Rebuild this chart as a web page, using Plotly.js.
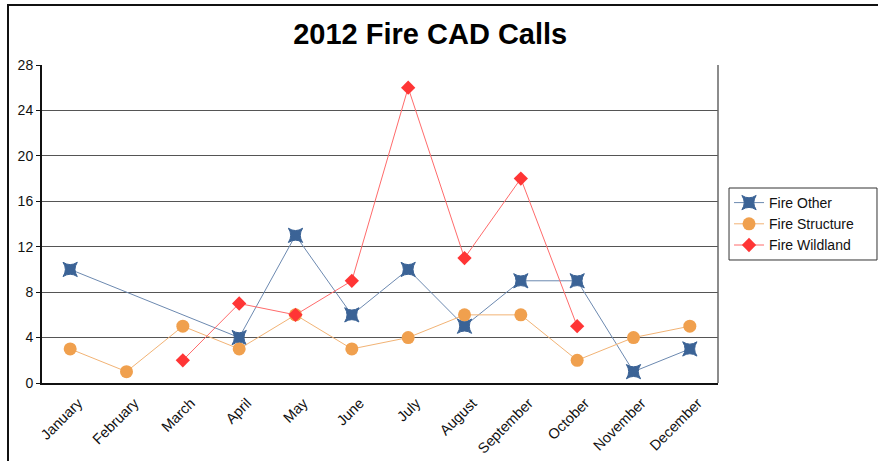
<!DOCTYPE html>
<html>
<head>
<meta charset="utf-8">
<script src="https://cdn.plot.ly/plotly-3.0.1.min.js"></script>
<style>
html,body{margin:0;padding:0;background:#fff;}
#frame{position:absolute;left:7px;top:4px;width:880px;height:470px;border-left:2px solid #111;border-top:2px solid #111;}
#chart{position:absolute;left:0;top:0;width:878px;height:461px;}
</style>
</head>
<body>
<div id="frame"></div>
<div id="chart"></div>
<script>
const months = ["January","February","March","April","May","June","July","August","September","October","November","December"];
const fireOther = [10, null, null, 4, 13, 6, 10, 5, 9, 9, 1, 3];
const fireStructure = [3, 1, 5, 3, 6, 3, 4, 6, 6, 2, 4, 5];
const fireWildland = [null, null, 2, 7, 6, 9, 26, 11, 18, 5, null, null];
const yTicks = [0, 4, 8, 12, 16, 20, 24, 28];

const traces = [
  {x: months, y: fireOther, name: "Fire Other", type: "scatter", mode: "lines+markers", connectgaps: true,
   line: {color: "#6c89b0", width: 1}, marker: {symbol: "star-square", size: 13, color: "#3b6396", line: {color: "#3b6396", width: 1}}},
  {x: months, y: fireStructure, name: "Fire Structure", type: "scatter", mode: "lines+markers", connectgaps: true,
   line: {color: "#f2b375", width: 1}, marker: {symbol: "circle", size: 13, color: "#f0a04e"}},
  {x: months, y: fireWildland, name: "Fire Wildland", type: "scatter", mode: "lines+markers", connectgaps: true,
   line: {color: "#ff6b6b", width: 1}, marker: {symbol: "diamond", size: 11, color: "#ff3535"}}
];

const layout = {
  width: 878, height: 461,
  paper_bgcolor: "rgba(0,0,0,0)", plot_bgcolor: "#fff",
  margin: {l: 42, r: 160, t: 65, b: 78},
  font: {family: "Liberation Sans, Arial, sans-serif", size: 14, color: "#111"},
  title: {text: "<b>2012 Fire CAD Calls</b>", font: {size: 29, color: "#000"}, x: 0.49, xref: "container", xanchor: "center", y: 0.927, yanchor: "middle"},
  xaxis: {type: "category", range: [-0.5, 11.5], tickangle: -45, showgrid: false, showline: true, linecolor: "#111", linewidth: 2,
          ticks: "", tickfont: {size: 14.5}, ticklabelshift: 8, ticklabelstandoff: 4, zeroline: false, fixedrange: true},
  yaxis: {range: [0, 28], tickvals: yTicks, ticktext: yTicks.map(String), showgrid: true, gridcolor: "#555", gridwidth: 1,
          showline: true, linecolor: "#111", linewidth: 2, ticks: "outside", ticklen: 4, tickcolor: "#111", zeroline: false,
          tickfont: {size: 14}, fixedrange: true},
  shapes: [
    {type: "line", xref: "paper", yref: "paper", x0: 1, x1: 1, y0: 0, y1: 1, line: {color: "#666", width: 1.5}},
    {type: "rect", xref: "paper", yref: "paper", x0: 1.0163, x1: 1.2352, y0: 0.3868, y1: 0.6132, line: {color: "#333", width: 1}, layer: "below"}
  ],
  legend: {x: 1.0163, xanchor: "left", y: 0.5, yanchor: "middle", borderwidth: 0, bgcolor: "rgba(0,0,0,0)",
           font: {size: 14}, tracegroupgap: 0},
  showlegend: true
};

Plotly.newPlot("chart", traces, layout, {displayModeBar: false, staticPlot: true});
</script>
</body>
</html>
